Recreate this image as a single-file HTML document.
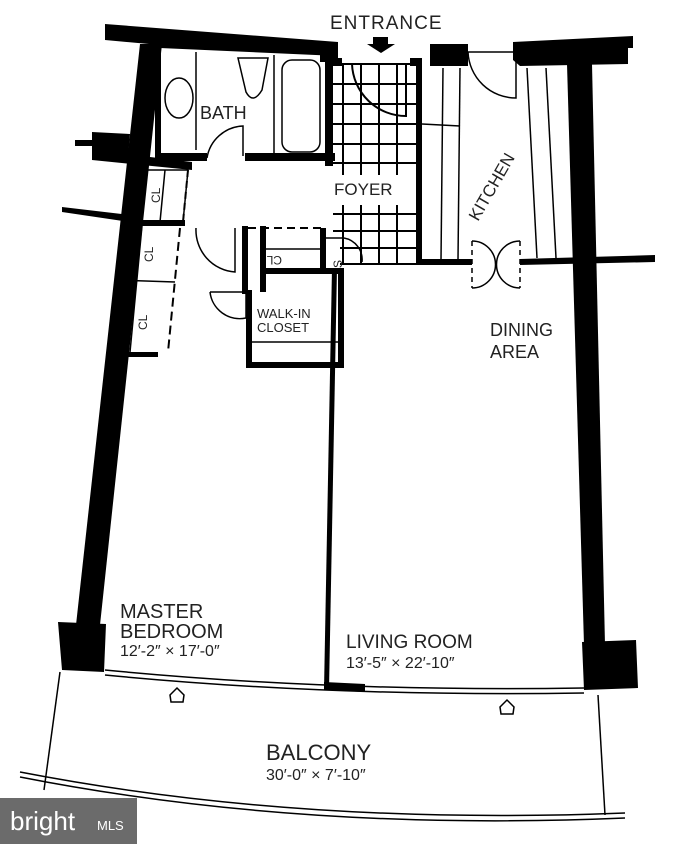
<!DOCTYPE html>
<html><head><meta charset="utf-8"><style>
html,body{margin:0;padding:0;background:#fff;}
svg{display:block;}
text{font-family:"Liberation Sans",sans-serif;fill:#222;}
</style></head><body>
<svg width="692" height="844" viewBox="0 0 692 844" xmlns="http://www.w3.org/2000/svg">
<g fill="#000" stroke="none">
  <!-- top left wall -->
  <polygon points="105,24 338,42 338,56 160,48 160,45 105,40"/>
  <!-- left exterior wall -->
  <polygon points="140,44 162,44 100,625 76,625"/>
  <polygon points="58,622 106,624 104,672 62,670"/>
  <!-- left stubs -->
  <polygon points="92,132 130,134 128,158 92,156"/>
  <rect x="75" y="140" width="20" height="6"/>
  <polygon points="62,207 130,215 130,222 62,212"/>
  <polygon points="92,150 192,162 192,170 92,160"/>
  <!-- entrance side blocks -->
  <rect x="320" y="42" width="18" height="20"/>
  <rect x="330" y="58" width="12" height="8"/>
  <rect x="410" y="58" width="12" height="8"/>
  <rect x="430" y="44" width="38" height="22"/>
  <!-- top right wall -->
  <polygon points="513,42 633,36 633,48 628,48 628,64 520,66 513,60"/>
  <!-- right exterior wall -->
  <polygon points="567,64 592,64 605,645 584,645"/>
  <polygon points="582,642 636,640 638,688 584,690"/>
  <!-- bath walls -->
  <rect x="155" y="48" width="6" height="110"/>
  <rect x="155" y="153" width="52" height="8"/>
  <rect x="245" y="153" width="90" height="8"/>
  <rect x="325" y="56" width="8" height="110"/>
  <!-- foyer right wall -->
  <rect x="416" y="64" width="6" height="200"/>
  <rect x="416" y="259" width="56" height="6"/>
  <polygon points="520,259 655,255 655,262 520,265"/>
  <!-- closet walls -->
  <rect x="123" y="220" width="62" height="6"/>
  <rect x="242" y="226" width="6" height="68"/>
  <rect x="260" y="226" width="6" height="66"/>
  <rect x="320" y="228" width="6" height="40"/>
  <rect x="260" y="268" width="78" height="6"/>
  <rect x="338" y="268" width="6" height="100"/>
  <rect x="246" y="362" width="96" height="6"/>
  <rect x="246" y="290" width="6" height="76"/>
  <rect x="120" y="352" width="38" height="5"/>
  <!-- partition between bedroom/living -->
  <polygon points="332,268 337,268 329,690 324,690"/>
  <polygon points="324,682 365,684 365,692 324,690"/>
</g>
<g fill="none" stroke="#000" stroke-width="1.5">
  <!-- bath fixtures -->
  <line x1="196" y1="52" x2="196" y2="150"/>
  <line x1="274" y1="55" x2="274" y2="155"/>
  <ellipse cx="179" cy="98" rx="14" ry="20"/>
  <path d="M238,58 L268,58 L262,90 Q253,105 246,92 Z"/>
  <rect x="282" y="60" width="38" height="92" rx="10"/>
  <path d="M207,158 A38,38 0 0 1 243,126 L243,156"/>
  <!-- foyer tiles -->
  <g stroke-width="2">
    <line x1="333" y1="64" x2="417" y2="64"/>
    <line x1="333" y1="84" x2="417" y2="84"/>
    <line x1="333" y1="104" x2="417" y2="104"/>
    <line x1="333" y1="124" x2="417" y2="124"/>
    <line x1="333" y1="144" x2="417" y2="144"/>
    <line x1="333" y1="163" x2="417" y2="163"/>
    <line x1="333" y1="214" x2="417" y2="214"/>
    <line x1="333" y1="231" x2="417" y2="231"/>
    <line x1="340" y1="248" x2="417" y2="248"/>
    <line x1="340" y1="264" x2="417" y2="264"/>
    <line x1="343" y1="64" x2="343" y2="175"/>
    <line x1="361" y1="64" x2="361" y2="175"/>
    <line x1="379" y1="64" x2="379" y2="175"/>
    <line x1="397" y1="64" x2="397" y2="175"/>
    <line x1="343" y1="205" x2="343" y2="264"/>
    <line x1="361" y1="205" x2="361" y2="264"/>
    <line x1="379" y1="205" x2="379" y2="264"/>
    <line x1="397" y1="205" x2="397" y2="264"/>
  </g>
  <path d="M352,64 A54,54 0 0 0 406,116 L406,64" stroke-width="2"/>
  <!-- kitchen -->
  <line x1="443" y1="68" x2="441" y2="260"/>
  <line x1="422" y1="124" x2="460" y2="126"/>
  <line x1="460" y1="68" x2="458" y2="260"/>
  <path d="M468,52 A48,48 0 0 0 516,98 L516,52 L468,52"/>
  <line x1="527" y1="68" x2="537" y2="258"/>
  <line x1="546" y1="68" x2="556" y2="258"/>
  <path d="M472,241 A20,20 0 0 1 472,288"/>
  <path d="M520,241 A20,20 0 0 0 520,288"/>
  <line x1="472" y1="241" x2="472" y2="288" stroke-dasharray="5,4"/>
  <line x1="520" y1="241" x2="520" y2="288" stroke-dasharray="5,4"/>
  <!-- closets -->
  <line x1="165" y1="170" x2="160" y2="222"/>
  <line x1="188" y1="170" x2="183" y2="222" stroke-dasharray="7,4" stroke-width="2"/>
  <polygon points="128,170 188,170 183,222 122,222"/>
  <line x1="142" y1="226" x2="130" y2="352"/>
  <line x1="118" y1="280" x2="175" y2="282"/>
  <line x1="180" y1="228" x2="168" y2="352" stroke-dasharray="9,5" stroke-width="2"/>
  <path d="M196,228 A42,42 0 0 0 235,272 L235,228"/>
  <line x1="248" y1="228" x2="322" y2="228" stroke-dasharray="8,5" stroke-width="2"/>
  <line x1="266" y1="249" x2="320" y2="249"/>
  <path d="M210,292 A30,30 0 0 0 246,318 L246,292 L210,292"/>
  <line x1="252" y1="342" x2="338" y2="342"/>
  <line x1="326" y1="238" x2="344" y2="238"/>
  <path d="M344,238 A22,22 0 0 1 362,262"/>
  <!-- window line -->
  <path d="M105,670 Q330,692 584,688"/>
  <path d="M105,675 Q330,697 584,693"/>
  <!-- balcony -->
  <line x1="60" y1="672" x2="44" y2="790"/>
  <line x1="598" y1="695" x2="605" y2="815"/>
  <path d="M20,777 Q300,832 625,818"/>
  <path d="M20,772 Q300,826 625,813"/>
  <!-- door arrows -->
  <path d="M170,695 L177,688 L184,695 L183,702 L171,702 Z"/>
  <path d="M500,707 L507,700 L514,707 L513,714 L501,714 Z"/>
</g>
<!-- Entrance arrow -->
<polygon points="373,37 388,37 388,44 395,44 381,53 367,44 373,44" fill="#000"/>
<text x="330" y="29" font-size="19" letter-spacing="1">ENTRANCE</text>
<text x="200" y="119" font-size="18">BATH</text>
<text x="334" y="195" font-size="17">FOYER</text>
<text font-size="17" transform="translate(478,222) rotate(-60)">KITCHEN</text>
<text x="490" y="336" font-size="18">DINING</text>
<text x="490" y="358" font-size="18">AREA</text>
<text x="257" y="318" font-size="13">WALK-IN</text>
<text x="257" y="332" font-size="13">CLOSET</text>
<text font-size="12" transform="translate(160,203) rotate(-90)">CL</text>
<text font-size="12" transform="translate(153,262) rotate(-90)">CL</text>
<text font-size="12" transform="translate(147,330) rotate(-90)">CL</text>
<text font-size="12" transform="translate(282,256) rotate(180)">CL</text>
<text font-size="12" transform="translate(342,268) rotate(-90)">S</text>
<text x="120" y="618" font-size="20">MASTER</text>
<text x="120" y="638" font-size="20">BEDROOM</text>
<text x="120" y="656" font-size="16">12′-2″ × 17′-0″</text>
<text x="346" y="648" font-size="19">LIVING ROOM</text>
<text x="346" y="668" font-size="16">13′-5″ × 22′-10″</text>
<text x="266" y="760" font-size="22">BALCONY</text>
<text x="266" y="780" font-size="16">30′-0″ × 7′-10″</text>
<rect x="0" y="798" width="137" height="46" fill="#6b6b6b"/>
<text x="10" y="830" font-size="26" font-family="Liberation Serif,serif" style="fill:#fff">bright</text>
<text x="97" y="830" font-size="13" style="fill:#fff">MLS</text>
</svg>
</body></html>
